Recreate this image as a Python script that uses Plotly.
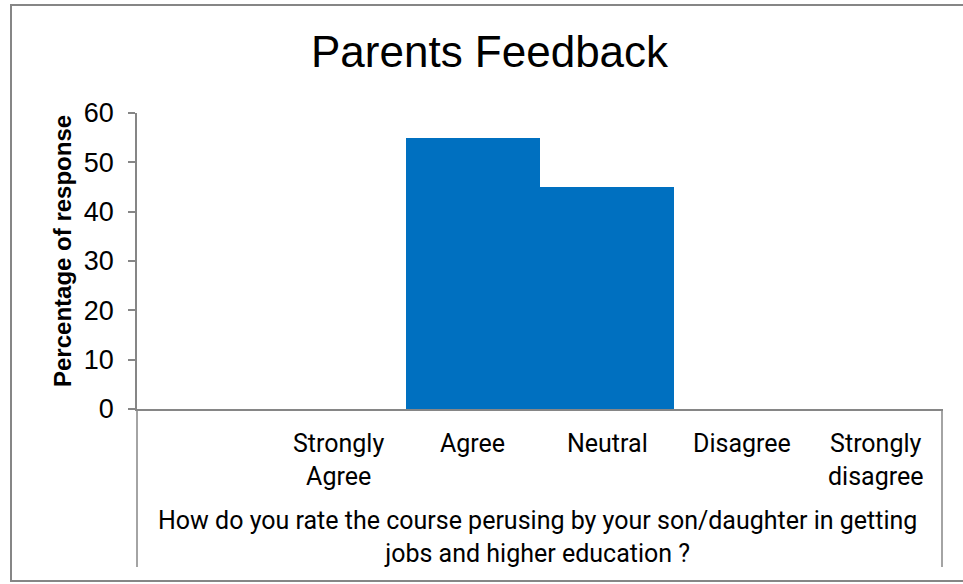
import plotly.graph_objects as go

# chart data
categories = [" ", "Strongly Agree", "Agree", "Neutral", "Disagree", "Strongly disagree"]
category_labels = ["", "Strongly<br>Agree", "Agree", "Neutral", "Disagree", "Strongly<br>disagree"]
responses = [None, 0, 55, 45, 0, 0]
y_ticks = [0, 10, 20, 30, 40, 50, 60]

W, H = 963, 584
L, R, T, B = 137, 20, 113, 175
PW, PH = W - L - R, H - T - B


def px_x(px):
    return (px - L) / PW


def px_y(py):
    return (H - B - py) / PH


AXIS_GREY = "#868686"
ARIAL = "Liberation Sans, Arial, sans-serif"
LABEL_FONT = "Roboto, Liberation Sans, sans-serif"

fig = go.Figure(go.Bar(
    x=categories,
    y=responses,
    marker=dict(color="#0070C0", line=dict(width=0)),
    hoverinfo="x+y",
))

fig.update_layout(
    width=W, height=H,
    margin=dict(l=L, r=R, t=T, b=B),
    paper_bgcolor="white",
    plot_bgcolor="white",
    bargap=0,
    showlegend=False,
    font=dict(family=ARIAL, color="black"),
)

fig.update_yaxes(
    range=[0, 60],
    tickvals=y_ticks,
    showgrid=False,
    zeroline=False,
    showline=True,
    linecolor=AXIS_GREY,
    linewidth=1.5,
    ticks="outside",
    ticklen=7,
    tickcolor=AXIS_GREY,
    tickwidth=1.5,
    ticklabelstandoff=9,
    tickfont=dict(size=27, family=ARIAL),
    fixedrange=True,
)
fig.update_xaxes(
    type="category",
    categoryorder="array",
    categoryarray=categories,
    showticklabels=False,
    showgrid=False,
    zeroline=False,
    showline=True,
    linecolor=AXIS_GREY,
    linewidth=1.5,
    ticks="",
    fixedrange=True,
)

annotations = []
# title
annotations.append(dict(
    text="Parents Feedback", x=px_x(490), y=px_y(52), xref="paper", yref="paper",
    showarrow=False, xanchor="center", yanchor="middle",
    font=dict(size=44, family=ARIAL),
))
# y axis title
annotations.append(dict(
    text="<b>Percentage of response</b>", x=px_x(62), y=px_y(251), xref="paper", yref="paper",
    showarrow=False, textangle=-90, xanchor="center", yanchor="middle",
    font=dict(size=24, family=ARIAL),
))
# category labels
for cat, lab in zip(categories, category_labels):
    if not lab:
        continue
    annotations.append(dict(
        text=lab, x=cat, y=px_y(427), xref="x", yref="paper",
        showarrow=False, xanchor="center", yanchor="top",
        font=dict(size=25, family=LABEL_FONT),
    ))
# x axis title
annotations.append(dict(
    text="How do you rate the course perusing by your son/daughter in getting<br>jobs and higher education ?",
    x=px_x(537), y=px_y(537), xref="paper", yref="paper",
    showarrow=False, xanchor="center", yanchor="middle",
    font=dict(size=25, family=LABEL_FONT),
))
fig.update_layout(annotations=annotations)

shapes = [
    # extended category axis edges
    dict(type="line", xref="paper", yref="paper", x0=0, x1=0, y0=0, y1=px_y(567),
         line=dict(color=AXIS_GREY, width=1.5)),
    dict(type="line", xref="paper", yref="paper", x0=px_x(942), x1=px_x(942), y0=0, y1=px_y(567),
         line=dict(color=AXIS_GREY, width=1.5)),
    # zero tick on the left of the category axis
    dict(type="line", xref="paper", yref="paper", x0=px_x(130), x1=0, y0=0, y1=0,
         line=dict(color=AXIS_GREY, width=1.5)),
    # chart border
    dict(type="rect", xref="paper", yref="paper", x0=px_x(11), x1=px_x(975),
         y0=px_y(581), y1=px_y(5), line=dict(color=AXIS_GREY, width=2)),
]
fig.update_layout(shapes=shapes)

fig.write_html(
    "out.html",
    config=dict(displayModeBar=False),
    post_script="document.body.style.margin='0';",
)
